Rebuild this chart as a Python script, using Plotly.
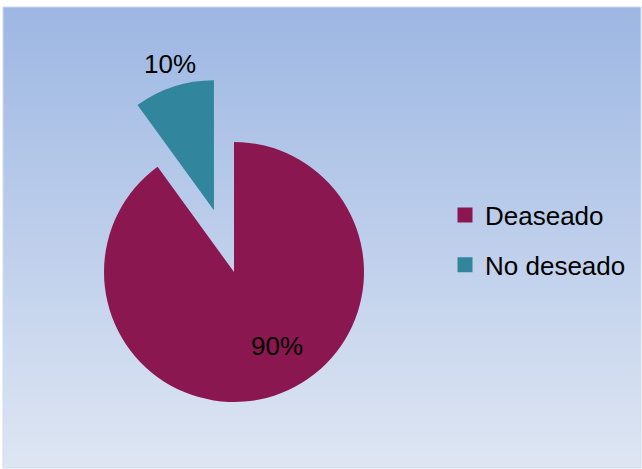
import plotly.graph_objects as go

# Data
categories = ["Deaseado", "No deseado"]
values = [90, 10]
slice_colors = ["#8B1750", "#31859C"]
pull = [0, 0.5]

W, H = 642, 469
font_family = "Liberation Sans Narrow, Arial Narrow, Liberation Sans, Arial, sans-serif"

total = sum(values)
pct_labels = [f"{v / total * 100:.0f}%" for v in values]
# Label anchor points (pixel coordinates on the canvas) for each slice
label_px = [(277, 346), (170, 64)]

fig = go.Figure()

# Vertical gradient backdrop behind the pie
fig.add_trace(go.Heatmap(
    z=[[0, 0], [1, 1]], x=[0, 1], y=[0, 1],
    colorscale=[[0, "#DEE6F3"], [1, "#9DB7E3"]],
    zsmooth="best", showscale=False, hoverinfo="skip",
    xaxis="x", yaxis="y", showlegend=False,
))

fig.add_trace(go.Pie(
    labels=categories,
    values=values,
    marker=dict(colors=slice_colors, line=dict(width=0)),
    pull=pull,
    sort=False,
    direction="clockwise",
    rotation=0,
    textinfo="none",
    domain=dict(x=[39 / W, 429 / W], y=[1 - 467 / H, 1 - 77 / H]),
    showlegend=False,
))

# Legend entries with square swatches
for i, (name, col) in enumerate(zip(categories, slice_colors)):
    fig.add_trace(go.Scatter(
        x=[None], y=[None], mode="markers", name=name,
        marker=dict(symbol="square", size=15, color=col, line=dict(width=0)),
        legendgroup=f"g{i}", showlegend=True, hoverinfo="skip",
    ))

annotations = [
    dict(
        text=txt, xref="paper", yref="paper",
        x=px / W, y=1 - py / H, xanchor="center", yanchor="middle",
        showarrow=False,
        font=dict(family=font_family, size=26, color="black"),
    )
    for txt, (px, py) in zip(pct_labels, label_px)
]

fig.update_layout(
    width=W, height=H,
    margin=dict(l=0, r=0, t=0, b=0, autoexpand=False),
    paper_bgcolor="white",
    plot_bgcolor="white",
    xaxis=dict(domain=[3 / W, 641 / W], range=[0, 1], visible=False, fixedrange=True),
    yaxis=dict(domain=[1 - 468 / H, 1 - 7 / H], range=[0, 1], visible=False, fixedrange=True),
    legend=dict(
        x=445 / W, xanchor="left",
        y=1 - 240 / H, yanchor="middle",
        font=dict(family=font_family, size=26, color="black"),
        bgcolor="rgba(0,0,0,0)",
        tracegroupgap=13,
        itemclick=False, itemdoubleclick=False,
    ),
    annotations=annotations,
    shapes=[dict(
        type="rect", xref="paper", yref="paper",
        x0=3 / W, x1=641 / W, y0=1 - 468 / H, y1=1 - 7 / H,
        line=dict(color="#D3DCEC", width=1), fillcolor="rgba(0,0,0,0)",
    )],
)

fig.write_html("out.html")
